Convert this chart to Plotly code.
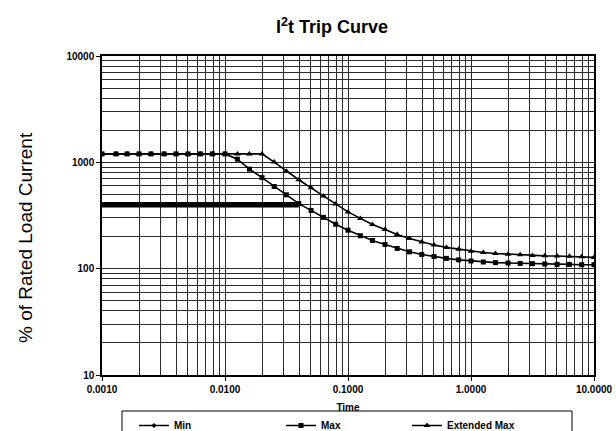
import plotly.graph_objects as go

# ---- data ----
time_s = [0.0010, 0.0013, 0.0016, 0.0020, 0.0025, 0.0032, 0.0040, 0.0050, 0.0063, 0.0079,
          0.0100, 0.0126, 0.0158, 0.0200, 0.0251, 0.0316, 0.0398, 0.0501, 0.0631, 0.0794,
          0.1000, 0.126, 0.158, 0.200, 0.251, 0.316, 0.398, 0.501, 0.631, 0.794,
          1.00, 1.26, 1.58, 2.00, 2.51, 3.16, 3.98, 5.01, 6.31, 7.94, 10.0]

min_time = [0.0010, 0.0013, 0.0016, 0.0020, 0.0025, 0.0032, 0.0040, 0.0050, 0.0063, 0.0079,
            0.0100, 0.0126, 0.0158, 0.0200, 0.0251, 0.0316, 0.0398]
min_vals = [400, 400, 400, 400, 400, 400, 400, 400, 400, 400,
            400, 400, 400, 400, 400, 400, 400]

max_vals = [1200, 1200, 1200, 1200, 1200, 1200, 1200, 1200, 1200, 1200,
            1200, 1071, 863, 718, 593, 495, 409, 353, 304, 262,
            230, 204, 184, 169, 155, 144, 136, 130, 125, 121,
            118, 115.5, 114, 113, 112, 111.4, 110.6, 109.8, 109.8, 109, 109]

ext_vals = [1200, 1200, 1200, 1200, 1200, 1200, 1200, 1200, 1200, 1200,
            1200, 1200, 1200, 1200, 1005, 824, 686, 576, 483, 405,
            342, 297, 260, 234, 210, 192, 178, 167, 158.5, 152,
            146, 142, 139, 137, 135, 133, 132, 131.5, 130.6, 129.6, 127.7]

x_tickvals = [0.001, 0.01, 0.1, 1, 10]
x_ticktext = ["0.0010", "0.0100", "0.1000", "1.0000", "10.0000"]
y_tickvals = [10, 100, 1000, 10000]
y_ticktext = ["10", "100", "1000", "10000"]

# ---- styling ----
W, H = 616, 431
ML, MR, MT, MB = 102, 22, 56, 56
PW, PH = W - ML - MR, H - MT - MB
FONT = "Liberation Sans, Arial, sans-serif"
GRID = "#2a2a2a"


def px_x(p):
    return (p - ML) / PW


def px_y(p):
    return (H - MB - p) / PH


x_minor = [m * 10 ** e for e in range(-3, 1) for m in range(2, 10)]
y_minor = [m * 10 ** e for e in range(1, 4) for m in range(2, 10)]

fig = go.Figure()

# data traces
fig.add_trace(go.Scatter(x=min_time, y=min_vals, mode="lines",
                         line=dict(color="black", width=5.5), showlegend=False))
fig.add_trace(go.Scatter(x=time_s, y=max_vals, mode="lines+markers",
                         line=dict(color="black", width=1.6),
                         marker=dict(symbol="square", size=5, color="black"),
                         showlegend=False))
fig.add_trace(go.Scatter(x=time_s, y=ext_vals, mode="lines+markers",
                         line=dict(color="black", width=1.6),
                         marker=dict(symbol="triangle-up", size=6, color="black"),
                         showlegend=False))

# legend entries (one legend each so they can sit where the reference puts them)
fig.add_trace(go.Scatter(x=[None], y=[None], mode="lines+markers", name="Min", legend="legend",
                         line=dict(color="black", width=1.5),
                         marker=dict(symbol="diamond", size=4, color="black")))
fig.add_trace(go.Scatter(x=[None], y=[None], mode="lines+markers", name="Max", legend="legend2",
                         line=dict(color="black", width=1.5),
                         marker=dict(symbol="square", size=5, color="black")))
fig.add_trace(go.Scatter(x=[None], y=[None], mode="lines+markers", name="Extended Max",
                         legend="legend3",
                         line=dict(color="black", width=1.5),
                         marker=dict(symbol="triangle-up", size=6, color="black")))

axis_common = dict(
    type="log", showline=True, linecolor="black", linewidth=1.5, mirror=True,
    showgrid=True, gridcolor=GRID, gridwidth=1, zeroline=False,
    ticks="outside", ticklen=4, tickcolor="black", tickmode="array",
    tickfont=dict(family=FONT, size=10, color="black", weight="bold"),
    automargin=False,
)

LEG_TOP = 411
leg_font = dict(family=FONT, size=10, color="black", weight="bold")


def leg(text_left):
    return dict(orientation="h", x=px_x(text_left - 42), xanchor="left",
                y=px_y(LEG_TOP), yanchor="top", borderwidth=0,
                bgcolor="rgba(0,0,0,0)", font=leg_font)


fig.update_layout(
    width=W, height=H,
    margin=dict(l=ML, r=MR, t=MT, b=MB, autoexpand=False),
    paper_bgcolor="white", plot_bgcolor="white",
    template="none",
    title=dict(text="I<sup>2</sup>t Trip Curve", x=332 / W, xanchor="center",
               y=1 - 27 / H, yanchor="middle", xref="container", yref="container",
               font=dict(family="Liberation Sans Narrow, Arial Narrow, Liberation Sans, sans-serif",
                         size=18, color="black", weight="bold")),
    xaxis=dict(**axis_common, range=[-3, 1], tickvals=x_tickvals, ticktext=x_ticktext,
               minor=dict(tickvals=x_minor, showgrid=True, gridcolor=GRID, gridwidth=1, ticks=""),
               title=dict(text="Time", standoff=10,
                          font=dict(family=FONT, size=10, color="black", weight="bold"))),
    yaxis=dict(**axis_common, range=[1, 4], tickvals=y_tickvals, ticktext=y_ticktext,
               minor=dict(tickvals=y_minor, showgrid=True, gridcolor=GRID, gridwidth=1, ticks="")),
    legend=leg(176),
    legend2=leg(323),
    legend3=leg(449),
    shapes=[dict(type="rect", xref="paper", yref="paper",
                 x0=px_x(122), x1=px_x(572), y0=px_y(LEG_TOP), y1=px_y(445),
                 line=dict(color="black", width=1), fillcolor="rgba(0,0,0,0)", layer="above")],
    annotations=[dict(text="% of Rated Load Current", textangle=-90,
                      x=px_x(25), y=px_y(238),
                      xref="paper", yref="paper", xanchor="center", yanchor="middle",
                      showarrow=False,
                      font=dict(family=FONT, size=19, color="black"))],
)

fig.write_html("out.html")
